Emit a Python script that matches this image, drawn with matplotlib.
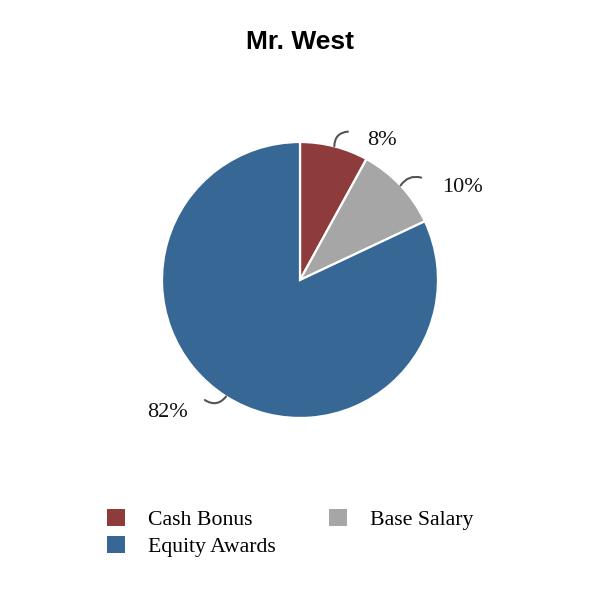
import matplotlib
matplotlib.use("Agg")
import matplotlib.pyplot as plt
from matplotlib.patches import Patch, FancyArrowPatch
import numpy as np

title = "Mr. West"
categories = ["Cash Bonus", "Base Salary", "Equity Awards"]
values = [8, 10, 82]
labels = ["8%", "10%", "82%"]
colors = ["#8E3B3B", "#A6A6A6", "#376795"]

fig = plt.figure(figsize=(6, 6), dpi=100)
fig.patch.set_facecolor("white")

R = 0.23
cx, cy = 0.5, 1 - 280 / 600
ax = fig.add_axes([cx - R, cy - R, 2 * R, 2 * R])
wedges, _ = ax.pie(values, colors=colors, startangle=90, counterclock=False,
                   radius=1.0, wedgeprops=dict(edgecolor="white", linewidth=1.6))
ax.set_xlim(-1, 1)
ax.set_ylim(-1, 1)
ax.set_aspect("equal")

# label placement (radius, angle offset) and leader line style
label_pos = [(1.175, -16.0), (1.356, -13.75), (1.358, -12.4)]
line_end = [(1.13, -3.5), (1.15, -3.0), (1.11, -6.0)]
rads = [-0.45, -0.35, -0.45]
serif = ["Liberation Serif", "DejaVu Serif"]

for w, lab, (lr, lo), (er, eo), rad in zip(wedges, labels, label_pos, line_end, rads):
    mid = np.deg2rad((w.theta1 + w.theta2) / 2)
    start = (np.cos(mid), np.sin(mid))
    ang_end = mid + np.deg2rad(eo)
    end = (er * np.cos(ang_end), er * np.sin(ang_end))
    ang_lab = mid + np.deg2rad(lo)
    tx, ty = lr * np.cos(ang_lab), lr * np.sin(ang_lab)
    ax.text(tx, ty, lab, ha="center", va="center", fontsize=16,
            family=serif, color="#111111", clip_on=False)
    p = FancyArrowPatch(posA=start, posB=end, arrowstyle="-",
                        connectionstyle=f"arc3,rad={rad}", color="#555555",
                        linewidth=1.5, shrinkA=0, shrinkB=0, clip_on=False)
    ax.add_patch(p)

fig.text(0.5, 0.93, title, ha="center", va="center", fontsize=19,
         fontweight="bold", family=["Liberation Sans", "DejaVu Sans"])

order = [0, 2, 1]
handles = [Patch(facecolor=colors[i], edgecolor="none") for i in order]
leg = fig.legend(handles, [categories[i] for i in order], ncol=2,
                 loc="upper left", bbox_to_anchor=(0.178, 0.152),
                 frameon=False, prop={"family": serif, "size": 15.7},
                 handlelength=0.83, handleheight=0.83, handletextpad=1.08,
                 columnspacing=2.4, labelspacing=0.28, borderaxespad=0,
                 borderpad=0)

fig.savefig("out.png", dpi=100, facecolor="white")
